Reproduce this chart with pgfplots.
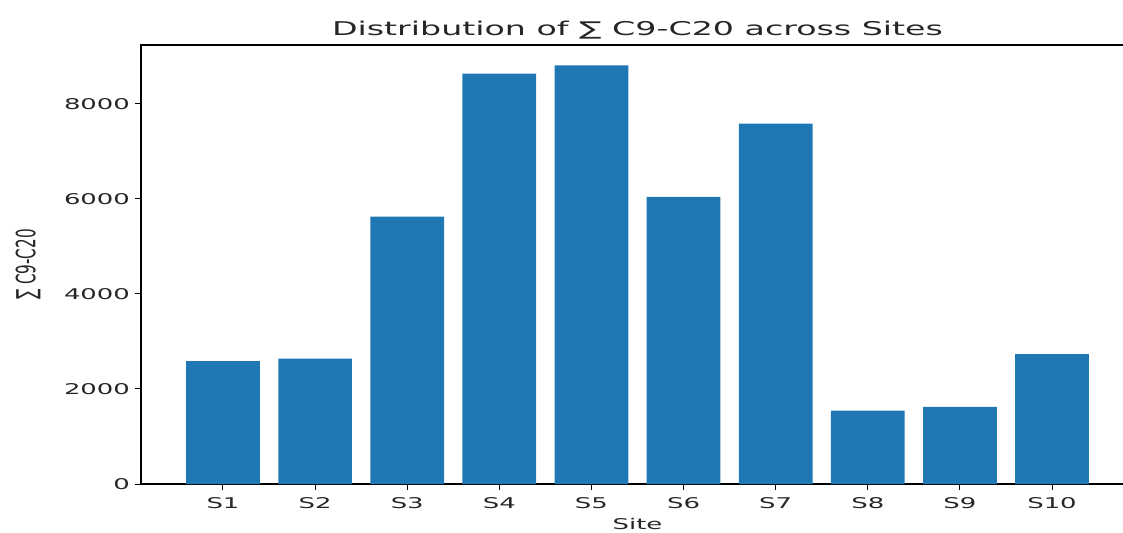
\documentclass[border=0pt]{standalone}
\usepackage{fontspec}
\setmainfont{DejaVu Sans}[FakeStretch=1.75]
\newfontfamily\plainfont{DejaVu Sans}
\usepackage{graphicx}
\usepackage{pgfplots}
\pgfplotsset{compat=1.18}
\definecolor{mplblue}{HTML}{1F77B4}
\definecolor{txt}{HTML}{262626}
\begin{document}
\begin{tikzpicture}
\useasboundingbox (0,0) rectangle (561.5pt,266pt);
\clip (0,0) rectangle (561.5pt,266pt);
\begin{axis}[
  at={(70.5pt,24pt)}, anchor=south west,
  scale only axis, width=496.5pt, height=219.5pt,
  xmin=-0.89, xmax=9.89, ymin=0, ymax=9240,
  axis line style={black, line width=0.6pt},
  tick style={black, line width=0.5pt},
  tick align=outside, major tick length=3pt,
  xtick pos=left, ytick pos=left,
  xtick={0,...,9},
  xticklabels={S1,S2,S3,S4,S5,S6,S7,S8,S9,S10},
  ytick={0,2000,4000,6000,8000},
  /pgf/number format/.cd, 1000 sep={}, assume math mode=true, /pgfplots/.cd,
  tick label style={font=\fontsize{7.4}{8}\selectfont, text=txt},
  yticklabel style={xshift=1pt},
  title={Distribution of ∑ C9-C20 across Sites},
  every axis title/.style={at={(axis description cs:0.5,1)}, anchor=base, yshift=5pt, font=\fontsize{9.5}{11}\selectfont, inner sep=0pt, text=txt},
  xlabel={Site},
  every axis x label/.style={at={(axis description cs:0.5,0)}, anchor=north, yshift=-17pt, font=\fontsize{7.4}{8}\selectfont, inner sep=0pt, text=txt},
  ylabel={\plainfont\scalebox{1}[1.75]{\fontsize{7.6}{8}\selectfont ∑ C9-C20}},
  every axis y label/.style={at={(axis description cs:-0.1138,0.5)}, rotate=90, anchor=center, inner sep=0pt, text=txt},
]
\addplot[ybar, bar width=0.8, bar shift=0pt, fill=mplblue, draw=none]
coordinates {(0,2589) (1,2638) (2,5626) (3,8636) (4,8813) (5,6041) (6,7584) (7,1543) (8,1621) (9,2736)};
\end{axis}
\end{tikzpicture}
\end{document}
